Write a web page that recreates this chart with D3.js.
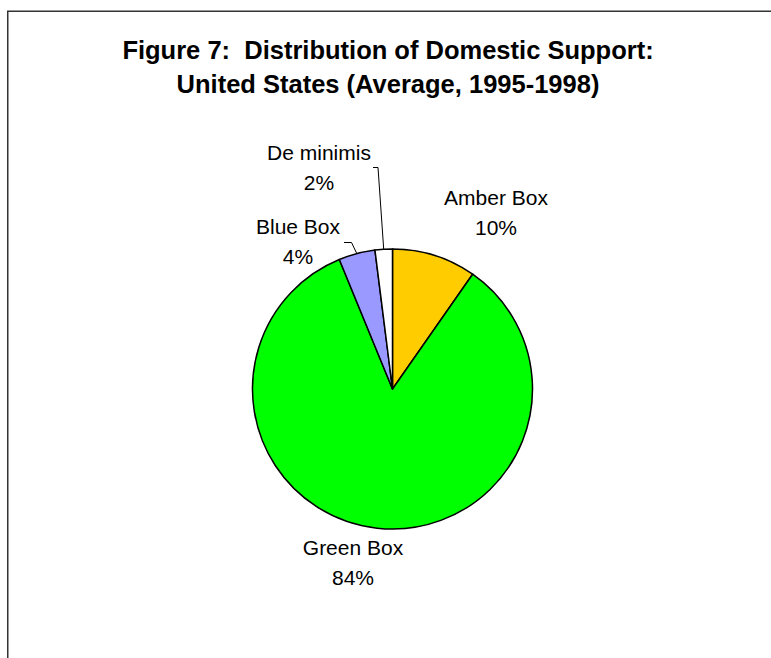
<!DOCTYPE html>
<html>
<head>
<meta charset="utf-8">
<script src="https://cdn.jsdelivr.net/npm/d3@7"></script>
<style>
  html, body { margin: 0; padding: 0; background: #fff; }
  svg { display: block; }
  text { font-family: "Liberation Sans", Arial, sans-serif; fill: #000; white-space: pre; }
</style>
</head>
<body>
<svg id="chart" width="771" height="658"></svg>
<script>
const categories = ["Amber Box", "Green Box", "Blue Box", "De minimis"];
const values = [9.7, 84.1, 4.2, 2.0];
const colors = ["#FFCC00", "#00FF00", "#9999FF", "#FFFFFF"];
const titleLines = ["Figure 7:  Distribution of Domestic Support:", "United States (Average, 1995-1998)"];

const svg = d3.select("#chart");
const W = 771, H = 658;
const cx = 392.5, cy = 389, R = 140;

// frame
svg.append("path")
  .attr("d", `M7.75,${H + 5} L7.75,11.25 L${W + 5},11.25`)
  .attr("fill", "none").attr("stroke", "#333").attr("stroke-width", 1.5);

// title
const title = svg.append("text")
  .attr("text-anchor", "middle")
  .attr("xml:space", "preserve")
  .style("font-weight", "bold").style("font-size", "25.5px");
title.selectAll("tspan").data(titleLines).enter().append("tspan")
  .attr("x", 388).attr("y", (d, i) => 59 + i * 34).text(d => d);

const data = categories.map((c, i) => ({ name: c, value: values[i], color: colors[i] }));
const total = d3.sum(values);

const pie = d3.pie().sort(null).value(d => d.value);
const arcs = pie(data);
const arc = d3.arc().innerRadius(0).outerRadius(R);
const edgeArc = d3.arc().innerRadius(R).outerRadius(R);

const g = svg.append("g").attr("transform", `translate(${cx},${cy})`);
g.selectAll("path.slice").data(arcs).enter().append("path")
  .attr("class", "slice")
  .attr("d", arc)
  .attr("fill", d => d.data.color)
  .attr("stroke", "#000").attr("stroke-width", 1.5).attr("stroke-linejoin", "round");

// label layout (positions only)
const labelPos = {
  "Amber Box": { x: 496, y: 205 },
  "Green Box": { x: 353, y: 555 },
  "Blue Box": { x: 298, y: 234 },
  "De minimis": { x: 319, y: 160 }
};
const leaderStart = {
  "Blue Box": [[344, 242.5], [351.5, 242.5]],
  "De minimis": [[373, 167.5], [378, 167.5]]
};

const fmt = v => Math.round(v / total * 100) + "%";

arcs.forEach(a => {
  const p = labelPos[a.data.name];
  const t = svg.append("text").attr("text-anchor", "middle").style("font-size", "21px");
  t.append("tspan").attr("x", p.x).attr("y", p.y).text(a.data.name);
  t.append("tspan").attr("x", p.x).attr("y", p.y + 30).text(fmt(a.data.value));
  const ls = leaderStart[a.data.name];
  if (ls) {
    const c = edgeArc.centroid(a);
    const pts = ls.concat([[cx + c[0], cy + c[1]]]);
    svg.append("path")
      .attr("d", d3.line()(pts))
      .attr("fill", "none").attr("stroke", "#000").attr("stroke-width", 1);
  }
});
</script>
</body>
</html>
